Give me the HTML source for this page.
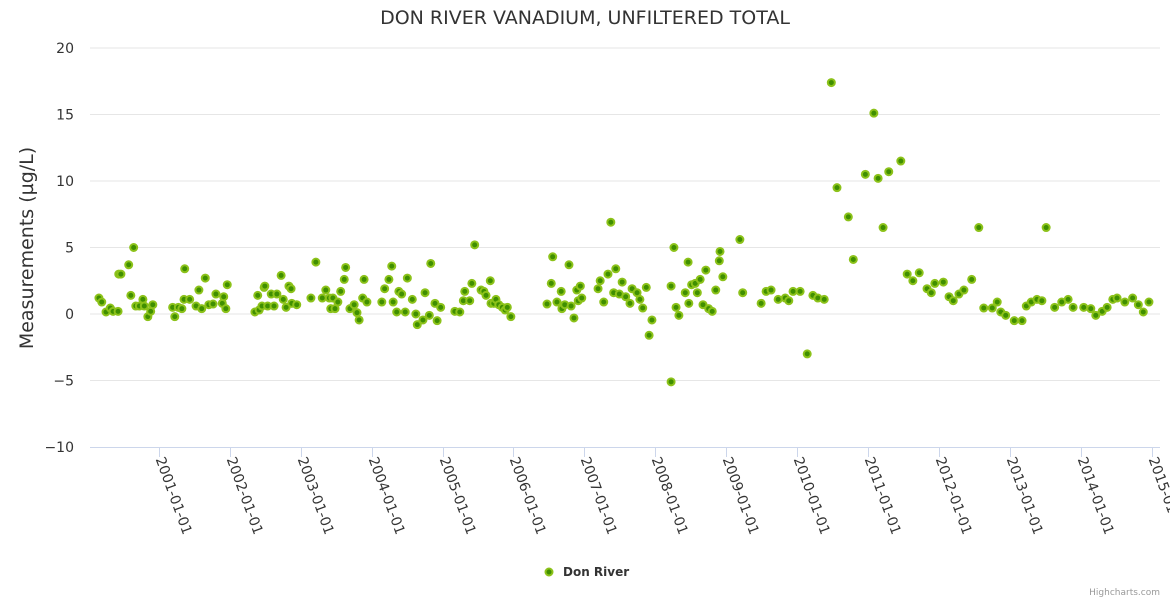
<!DOCTYPE html>
<html><head><meta charset="utf-8"><style>
html,body{margin:0;padding:0;background:#fff;}
svg{display:block;font-family:"DejaVu Sans","Liberation Sans",sans-serif;}
</style></head><body>
<svg id="chart" width="1170" height="600" viewBox="0 0 1170 600" xmlns="http://www.w3.org/2000/svg">
<rect x="0" y="0" width="1170" height="600" fill="#fff"/>
<text x="585" y="24" text-anchor="middle" font-size="19" fill="#333">DON RIVER VANADIUM, UNFILTERED TOTAL</text>
<g id="grid"></g>
<g id="yaxis"></g>
<g id="xaxis"></g>
<text transform="translate(33,248) rotate(-90)" text-anchor="middle" font-size="19" fill="#333">Measurements (µg/L)</text>
<g id="points"></g>
<g>
<circle cx="549" cy="572" r="3.5" fill="#3f8f00" stroke="#8cc21a" stroke-width="2"/>
<text x="563" y="576" font-size="12" font-weight="bold" fill="#333">Don River</text>
</g>
<text x="1160" y="595" text-anchor="end" font-size="9" fill="#999">Highcharts.com</text>
</svg>
<script>
// decimal years after 2000
const times = [0.14,0.18,0.24,0.30,0.34,0.41,0.42,0.45,0.56,0.63,0.59,0.66,0.71,0.76,0.78,0.83,0.87,0.90,
1.18,1.21,1.26,1.31,1.34,1.35,1.42,1.51,1.55,1.59,1.64,1.69,1.75,1.79,1.88,1.90,1.93,1.95,
2.34,2.38,2.40,2.44,2.47,2.48,2.52,2.57,2.61,2.65,2.71,2.74,2.78,2.82,2.85,2.86,2.93,
3.13,3.20,3.29,3.34,3.39,3.41,3.44,3.47,3.51,3.55,3.60,3.62,3.68,3.74,3.78,3.81,3.86,3.88,3.92,
4.13,4.17,4.23,4.27,4.29,4.34,4.37,4.41,4.46,4.49,4.56,4.61,4.63,4.71,4.74,4.80,4.82,4.88,4.91,4.96,
5.16,5.23,5.28,5.30,5.37,5.40,5.44,5.53,5.57,5.60,5.66,5.67,5.71,5.74,5.78,5.83,5.87,5.90,5.95,
6.46,6.52,6.54,6.60,6.66,6.67,6.71,6.77,6.80,6.84,6.88,6.90,6.93,6.95,
7.18,7.21,7.26,7.32,7.36,7.40,7.43,7.48,7.52,7.57,7.63,7.66,7.73,7.77,7.81,7.86,7.90,7.94,
8.21,8.21,8.25,8.28,8.32,8.41,8.45,8.46,8.50,8.55,8.58,8.62,8.66,8.70,8.74,8.79,8.84,8.89,8.90,8.94,
9.18,9.22,9.48,9.55,9.62,9.72,9.82,9.87,9.93,10.03,10.13,10.21,10.28,10.37,
10.47,10.55,10.71,10.78,10.95,11.07,11.13,11.20,11.28,11.45,
11.54,11.62,11.71,11.82,11.88,11.93,12.05,12.13,12.19,12.27,12.34,12.45,12.55,12.62,12.74,12.81,12.86,12.93,13.05,13.16,13.22,13.29,13.37,13.44,13.50,13.62,13.72,13.81,13.88,14.03,14.13,14.20,14.29,14.36,14.44,14.50,14.61,14.72,14.80,14.87,14.95];
const values = [1.2,0.9,0.15,0.45,0.2,0.2,3.0,3.0,3.7,5.0,1.4,0.6,0.6,1.1,0.6,-0.2,0.2,0.7,
0.5,-0.2,0.5,0.4,1.1,3.4,1.1,0.6,1.8,0.4,2.7,0.7,0.75,1.5,0.8,1.3,0.4,2.2,
0.15,1.4,0.3,0.6,2.0,2.1,0.6,1.5,0.6,1.5,2.9,1.1,0.5,2.1,1.9,0.8,0.7,
1.2,3.9,1.2,1.8,1.2,0.4,1.2,0.4,0.9,1.7,2.6,3.5,0.4,0.7,0.1,-0.45,1.2,2.6,0.9,
0.9,1.9,2.6,3.6,0.9,0.15,1.7,1.5,0.15,2.7,1.1,0.0,-0.8,-0.45,1.6,-0.1,3.8,0.8,-0.5,0.5,
0.2,0.15,1.0,1.7,1.0,2.3,5.2,1.8,1.7,1.4,2.5,0.8,0.8,1.1,0.7,0.5,0.3,0.5,-0.2,
0.75,2.3,4.3,0.9,1.7,0.4,0.7,3.7,0.6,-0.3,1.8,1.0,2.1,1.2,
1.9,2.5,0.9,3.0,6.9,1.6,3.4,1.5,2.4,1.3,0.8,1.9,1.6,1.1,0.45,2.0,-1.6,-0.45,
-5.1,2.1,5.0,0.5,-0.1,1.6,3.9,0.8,2.2,2.3,1.6,2.6,0.7,3.3,0.4,0.2,1.8,4.0,4.7,2.8,
5.6,1.6,0.8,1.7,1.8,1.1,1.2,1.0,1.7,1.7,-3.0,1.4,1.2,1.1,
17.4,9.5,7.3,4.1,10.5,15.1,10.2,6.5,10.7,11.5,
3.0,2.5,3.1,1.9,1.6,2.3,2.4,1.3,1.0,1.5,1.8,2.6,6.5,0.45,0.45,0.9,0.15,-0.1,-0.5,-0.5,0.6,0.9,1.1,1.0,6.5,0.5,0.9,1.1,0.5,0.5,0.4,-0.1,0.2,0.5,1.1,1.2,0.9,1.2,0.7,0.15,0.9];
const yTicks = [-10,-5,0,5,10,15,20];
const xTickLabels = ["2001-01-01","2002-01-01","2003-01-01","2004-01-01","2005-01-01","2006-01-01","2007-01-01","2008-01-01","2009-01-01","2010-01-01","2011-01-01","2012-01-01","2013-01-01","2014-01-01","2015-01-01"];
const xTickYears = [1,2,3,4,5,6,7,8,9,10,11,12,13,14,15];

const NS="http://www.w3.org/2000/svg";
const L=90,R=1160,T=48,B=447;
const xS=t=>89+70.9*t;
const yS=v=>B-(v+10)/30*(B-T);
function mk(tag,attrs,parent){const e=document.createElementNS(NS,tag);for(const k in attrs)e.setAttribute(k,attrs[k]);parent.appendChild(e);return e;}
const grid=document.getElementById('grid'),ya=document.getElementById('yaxis'),xa=document.getElementById('xaxis'),pts=document.getElementById('points');
yTicks.forEach(v=>{
  if(v!==-10){const g=mk('line',{x1:L,x2:R,y1:yS(v),y2:yS(v),stroke:'#e6e6e6','stroke-width':1},grid);
  
  }
  const t=mk('text',{x:74,y:yS(v)+5,'text-anchor':'end','font-size':14,fill:'#333'},ya);
  t.textContent=(v<0?'\u2212'+(-v):v);
  
  
});
const axl=mk('line',{x1:L,x2:R,y1:B+0.5,y2:B+0.5,stroke:'#ccd6eb','stroke-width':1},xa);


xTickYears.forEach((yr,i)=>{
  const x=Math.round(xS(yr))-0.5;
  const tk=mk('line',{x1:x,x2:x,y1:B,y2:B+10,stroke:'#ccd6eb','stroke-width':1},xa);
  
  
  const t=mk('text',{transform:`translate(${x-4},${B+12}) rotate(70)`,'font-size':14,fill:'#333'},xa);
  t.textContent=xTickLabels[i];
  
  
});
times.forEach((t,i)=>{
  const c=mk('circle',{cx:xS(t),cy:yS(values[i]),r:3.5,fill:'#3f8f00',stroke:'#8cc21a','stroke-width':2},pts);
  
  
});
</script>
</body></html>
